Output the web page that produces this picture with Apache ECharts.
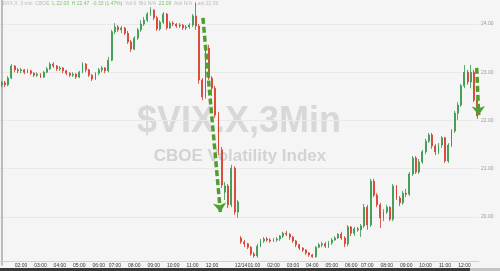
<!DOCTYPE html>
<html><head><meta charset="utf-8">
<script src="https://cdn.jsdelivr.net/npm/echarts@6/dist/echarts.min.js"></script>
<style>html,body{margin:0;padding:0;background:#f5f5f5}#c{width:500px;height:271px}</style>
</head><body><div id="c"></div>
<script>
// ---- data ----
const day1Date = '12/13', day2Date = '12/14';
const skippedSlots = ['06:50'];
// [open, close, low, high] for 10-minute bars
const day1Bars = [
[22.74,22.78,22.69,22.82],[22.78,22.74,22.69,22.82],[22.74,22.88,22.71,22.92],[22.88,23.13,22.86,23.17],
[23.13,23.05,23.00,23.15],[23.05,23.03,22.98,23.09],[23.03,23.05,22.98,23.09],[23.05,23.00,22.96,23.07],
[23.00,23.03,22.98,23.07],[23.03,22.98,22.94,23.05],[22.98,22.94,22.90,23.00],[22.94,22.96,22.90,23.00],
[22.96,22.90,22.88,22.98],[22.90,23.00,22.88,23.03],[23.00,23.07,22.98,23.11],[23.07,23.17,23.05,23.21],
[23.17,23.13,23.09,23.21],[23.13,23.07,23.03,23.15],[23.07,23.09,23.03,23.13],[23.09,23.03,22.98,23.11],
[23.03,22.98,22.94,23.05],[22.98,22.94,22.90,23.00],[22.94,22.96,22.90,23.00],[22.96,22.90,22.86,22.98],
[22.90,23.00,22.88,23.03],[23.00,23.17,22.98,23.21],[23.17,23.05,23.00,23.19],[23.05,22.94,22.90,23.07],
[22.94,22.86,22.82,22.96],[22.86,22.98,22.84,23.00],[22.98,23.05,22.94,23.09],[23.05,23.09,23.00,23.13],
[23.09,23.03,22.98,23.11],[23.03,23.25,23.00,23.32],[23.25,23.84,23.23,23.88],[23.84,23.94,23.79,24.02],
[23.94,23.88,23.84,23.98],[23.88,23.92,23.81,23.96],[23.92,23.81,23.77,23.94],[23.81,23.63,23.59,23.86],
[23.63,23.48,23.42,23.67],[23.48,23.71,23.46,23.75],[23.71,23.88,23.67,23.92],[23.88,24.00,23.84,24.08],
[24.00,24.08,23.96,24.15],[24.08,24.21,24.04,24.25],[24.21,24.29,24.17,24.35],[24.29,24.13,24.08,24.31],
[24.13,23.90,23.86,24.17],[23.90,24.04,23.86,24.08],[24.04,24.21,24.00,24.25],[24.21,23.92,23.88,24.23],
[23.92,24.02,23.90,24.06],[24.02,24.00,23.96,24.06],[24.00,23.96,23.92,24.02],[23.96,23.98,23.92,24.02],
[23.98,23.92,23.88,24.00],[23.92,23.94,23.88,23.98],[23.94,23.98,23.90,24.02],[23.98,24.17,23.94,24.21],
[24.17,23.96,23.88,24.44],[23.96,22.84,22.76,24.00],[22.84,22.49,22.42,22.88],[22.49,23.50,22.45,23.55],
[23.50,22.88,22.84,23.57],[22.88,22.67,22.51,22.92],[22.67,22.11,22.05,22.72],[22.11,21.39,21.28,22.18],
[21.39,20.66,20.60,21.45],[20.51,20.64,20.35,20.72],[20.64,20.25,20.18,20.68],[20.25,21.01,20.20,21.08],
[21.01,20.10,20.04,21.05],[20.10,20.31,19.98,20.35]
];
const day2Bars = [
[19.56,19.48,19.44,19.60],[19.48,19.44,19.37,19.52],[19.44,19.37,19.33,19.46],[19.37,19.23,19.19,19.39],
[19.23,19.19,19.15,19.27],[19.19,19.39,19.15,19.44],[19.39,19.50,19.37,19.54],[19.50,19.54,19.46,19.58],
[19.54,19.52,19.48,19.58],[19.52,19.50,19.46,19.56],[19.50,19.52,19.48,19.56],[19.52,19.54,19.48,19.58],
[19.54,19.60,19.50,19.62],[19.60,19.66,19.56,19.69],[19.66,19.64,19.60,19.71],[19.64,19.58,19.52,19.66],
[19.58,19.50,19.46,19.60],[19.50,19.42,19.37,19.52],[19.42,19.35,19.31,19.44],[19.35,19.31,19.27,19.37],
[19.31,19.25,19.21,19.33],[19.25,19.21,19.17,19.27],[19.21,19.17,19.15,19.23],[19.17,19.37,19.15,19.39],
[19.37,19.42,19.35,19.46],[19.42,19.44,19.37,19.48],[19.44,19.39,19.35,19.48],[19.39,19.46,19.35,19.50],
[19.46,19.52,19.42,19.56],[19.52,19.56,19.50,19.60],[19.56,19.64,19.54,19.66],[19.64,19.56,19.52,19.69],
[19.56,19.44,19.37,19.60],[19.44,19.79,19.39,19.83],[19.79,19.66,19.60,19.81],[19.66,19.75,19.60,19.79],
[19.75,19.73,19.69,19.79],[19.73,19.81,19.58,19.85],[19.81,20.20,19.77,20.27],[20.20,19.83,19.73,20.25],
[19.83,20.74,19.79,20.79],[20.74,20.45,20.41,20.79],[20.45,20.25,20.20,20.49],[20.25,19.98,19.77,20.29],
[19.98,20.10,19.91,20.16],[20.10,20.20,20.06,20.25],[20.20,19.95,19.91,20.22],[19.95,20.64,19.91,20.68],
[20.64,20.39,20.35,20.66],[20.39,20.29,20.22,20.43],[20.29,20.49,20.25,20.54],[20.49,20.47,20.41,20.58],
[20.47,20.89,20.43,20.93],[20.89,21.22,20.85,21.26],[21.22,20.93,20.89,21.26],[20.93,21.14,20.89,21.20],
[21.14,21.35,21.10,21.39],[21.35,21.57,21.30,21.62],[21.57,21.70,21.53,21.74],[21.70,21.47,21.41,21.74],
[21.47,21.35,21.28,21.51],[21.35,21.49,21.30,21.53],[21.49,21.64,21.43,21.68],[21.64,21.16,21.12,21.66],
[21.16,21.49,21.12,21.53],[21.49,21.78,21.45,21.82],[21.78,22.15,21.74,22.20],[22.15,22.32,22.01,22.38],
[22.32,22.72,22.28,22.76],[22.72,23.00,22.67,23.15],[23.00,22.80,22.74,23.05],[22.80,23.00,22.67,23.15],
[23.00,22.42,22.38,23.05],[22.42,22.09,22.03,22.47]
];
const yLabels = [20, 21, 22, 23, 24];
// annotation arrows: [[barIndex, value] start, [barIndex, value] end]
const arrows = [
  [[62.2, 24.13], [67.6, 20.10]],
  [[146.8, 23.09], [147.4, 22.11]]
];

// ---- build ----
function sessionTimes(date, start, end, skip) {
  const out = [];
  const toMin = s => (+s.slice(0, 2)) * 60 + (+s.slice(3));
  for (let m = toMin(start); m <= toMin(end); m += 10) {
    const t = String(Math.floor(m / 60)).padStart(2, '0') + ':' + String(m % 60).padStart(2, '0');
    if (skip.indexOf(t) < 0) out.push(date + ' ' + t);
  }
  return out;
}
const categories = sessionTimes(day1Date, '01:00', '13:20', skippedSlots)
  .concat(sessionTimes(day2Date, '00:20', '12:40', skippedSlots));
const bars = day1Bars.concat(day2Bars);
const N = categories.length;
const dateOf = i => categories[i].split(' ')[0];

const green = '#35964a', red = '#d63a2a', arrowGreen = '#4f9f2e';
const chart = echarts.init(document.getElementById('c'), null, {renderer: 'canvas'});
chart.setOption({
  animation: false,
  backgroundColor: '#f5f5f5',
  grid: {left: 0, right: 21, top: 0, bottom: 6, outerBoundsMode: 'none', containLabel: false},
  xAxis: [{
    type: 'category', data: categories, boundaryGap: true, offset: -4, z: 10,
    axisLine: {show: true, lineStyle: {color: '#d0d0d0', width: 1}},
    axisTick: {show: false},
    splitLine: {show: false},
    axisLabel: {
      interval: 0, hideOverlap: false, margin: 2, fontSize: 5, color: '#333',
      fontFamily: 'Liberation Sans, Arial, sans-serif',
      formatter: function (val, idx) {
        const t = val.split(' ')[1];
        if (idx > 0 && dateOf(idx - 1) !== dateOf(idx)) return dateOf(idx);
        const nearDayEnd = idx + 3 < N ? dateOf(idx + 3) !== dateOf(idx) : false;
        if (idx > 0 && !nearDayEnd && t.slice(3) === '00') return t;
        return '';
      }
    }
  }, {
    type: 'value', min: -0.5, max: N - 0.5, show: false
  }],
  yAxis: {
    type: 'value', position: 'right', min: 19, max: 24.5, interval: 1,
    axisLine: {show: true, lineStyle: {color: '#a8a8a8', width: 1.5}},
    axisTick: {show: false, customValues: yLabels},
    splitLine: {show: true, lineStyle: {color: '#e9e9e9', width: 1}},
    axisLabel: {
      customValues: yLabels,
      margin: 2, fontSize: 5, color: '#999', fontFamily: 'Liberation Sans, Arial, sans-serif',
      formatter: v => v.toFixed(2)
    }
  },
  graphic: [
    {type: 'text', z: 0, x: 239, y: 122, style: {
      text: '$VIX.X,3Min', fill: '#d8d8d8', font: 'bold 36px "Liberation Sans", Arial, sans-serif',
      align: 'center', verticalAlign: 'middle'}},
    {type: 'text', z: 0, x: 240, y: 156, style: {
      text: 'CBOE Volatility Index', fill: '#d3d3d3', font: 'bold 17px "Liberation Sans", Arial, sans-serif',
      align: 'center', verticalAlign: 'middle'}},
    {type: 'text', z: 0, x: 2, y: 1, style: {
      text: '{g|$VIX.X  3 min  CBOE}  {v|L 22.03  H 22.47  -0.33 (1.47%)}  {g|Vol 0  Bid N/A}  {v|22.09}  {g|Ask N/A  Last 22.09}',
      rich: {
        g: {fill: '#bdbdbd', font: '5px "Liberation Sans", Arial, sans-serif'},
        v: {fill: '#7cc46a', font: '5px "Liberation Sans", Arial, sans-serif'}
      },
      font: '5px "Liberation Sans", Arial, sans-serif'}},
    {type: 'rect', z: 0, shape: {x: 0, y: 268, width: 470, height: 3}, style: {fill: '#3a3a3a'}},
    {type: 'rect', z: 0, shape: {x: 470, y: 268, width: 30, height: 3}, style: {fill: '#c4c4c4'}}
  ],
  series: [{
    type: 'candlestick', name: '$VIX.X', data: bars, z: 5,
    xAxisIndex: 0, yAxisIndex: 0, barWidth: 1.4,
    itemStyle: {color: green, color0: red, borderColor: green, borderColor0: red, borderColorDoji: green, borderWidth: 0.8}
  }, {
    type: 'line', name: 'arrows', data: [], xAxisIndex: 1, yAxisIndex: 0, z: 20, clip: false,
    markLine: {
      silent: true, animation: false, z: 20, symbol: ['none', 'arrow'], symbolSize: [10, 9],
      label: {show: false},
      lineStyle: {color: arrowGreen, width: 3.5, type: [6, 3], opacity: 1},
      emphasis: {disabled: true},
      data: arrows.map(a => [{coord: a[0]}, {coord: a[1]}])
    }
  }]
});
</script></body></html>
